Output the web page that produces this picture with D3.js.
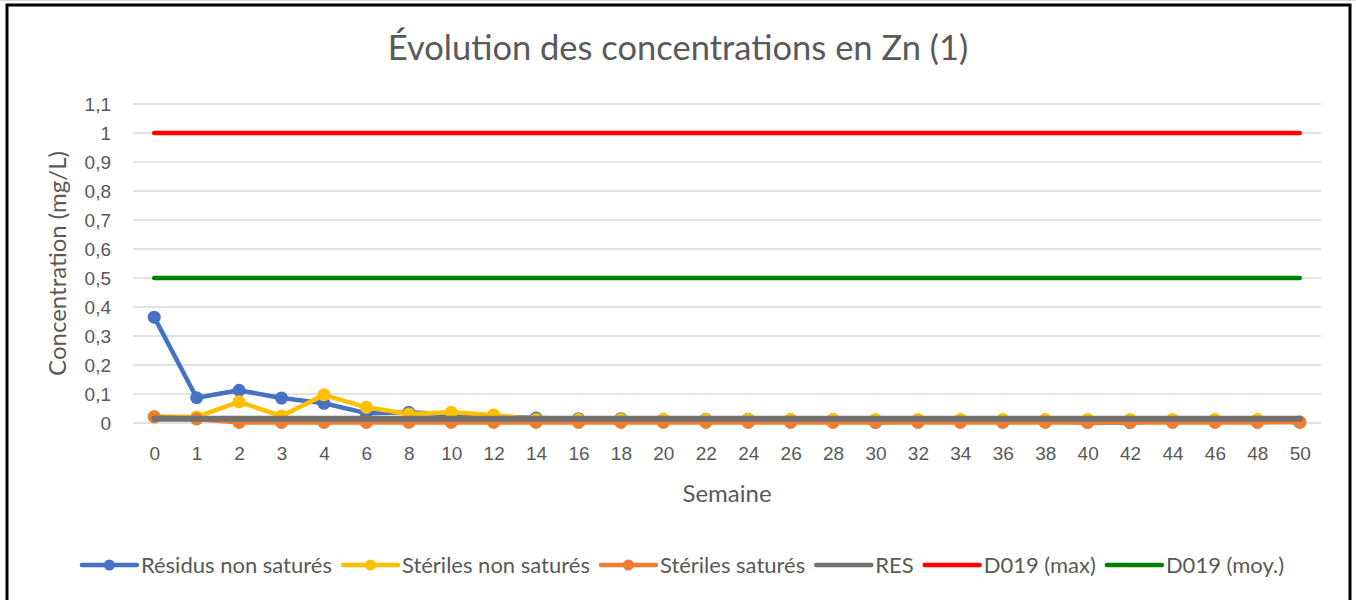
<!DOCTYPE html>
<html>
<head>
<meta charset="utf-8">
<script src="https://cdn.jsdelivr.net/npm/d3@7"></script>
<style>
  html, body { margin: 0; padding: 0; background: #fff; }
  svg { display: block; font-family: Lato, "Open Sans", sans-serif; }
</style>
</head>
<body>
<svg id="chart" width="1356" height="600"></svg>
<script>
// Semaines (axe des catégories)
const weeks = ["0","1","2","3","4","6","8","10","12","14","16","18","20","22","24","26","28","30","32","34","36","38","40","42","44","46","48","50"];

// Concentrations en Zn (mg/L)
const residusNonSatures = [0.365,0.087,0.113,0.086,0.068,0.034,0.037,0.03,0.022,0.017,0.015,0.015,0.011,0.013,0.013,0.011,0.011,0.002,0.009,0.008,0.008,0.008,0.002,0.002,0.009,0.008,0.009,0.003];
const sterilesNonSatures = [0.022,0.021,0.073,0.024,0.097,0.054,0.031,0.037,0.028,0.012,0.012,0.012,0.012,0.012,0.012,0.012,0.012,0.012,0.012,0.012,0.012,0.012,0.012,0.012,0.012,0.012,0.012,0.004];
const sterilesSatures = [0.021,0.014,0.002,0.002,0.002,0.002,0.002,0.002,0.002,0.002,0.002,0.002,0.002,0.002,0.002,0.002,0.002,0.002,0.002,0.002,0.002,0.002,0.002,0.002,0.002,0.002,0.002,0.003];
const resValues = weeks.map(() => 0.015);
const d019Max = weeks.map(() => 1);
const d019Moy = weeks.map(() => 0.5);

const yTicks = [0,0.1,0.2,0.3,0.4,0.5,0.6,0.7,0.8,0.9,1,1.1];

const series = [
  { name: "Résidus non saturés", values: residusNonSatures, color: "#4472C4", marker: true, width: 4.5 },
  { name: "Stériles non saturés", values: sterilesNonSatures, color: "#FFC000", marker: true, width: 4.5 },
  { name: "Stériles saturés", values: sterilesSatures, color: "#ED7D31", marker: true, width: 4.5 },
  { name: "RES", values: resValues, color: "#767171", marker: false, width: 6 },
  { name: "D019 (max)", values: d019Max, color: "#FF0000", marker: false, width: 4.5 },
  { name: "D019 (moy.)", values: d019Moy, color: "#008000", marker: false, width: 4.5 }
];

const svg = d3.select("#chart");
const textColor = "#595959";
const plot = { left: 133, right: 1321, top: 104, bottom: 423 };

// Cadre du graphique
svg.append("line").attr("x1", 0).attr("x2", 1356).attr("y1", 0.5).attr("y2", 0.5)
  .attr("stroke", "#d9d9d9").attr("stroke-width", 1);
svg.append("rect").attr("x", 7).attr("y", 5).attr("width", 1343).attr("height", 700)
  .attr("fill", "#fff").attr("stroke", "#000").attr("stroke-width", 3);

const x = d3.scalePoint().domain(weeks).range([plot.left, plot.right]).padding(0.5);
const y = d3.scaleLinear().domain([0, 1.1]).range([plot.bottom, plot.top]);

// Quadrillage horizontal
svg.append("g").selectAll("line").data(yTicks).join("line")
  .attr("x1", plot.left).attr("x2", plot.right)
  .attr("y1", d => y(d)).attr("y2", d => y(d))
  .attr("stroke", "#d9d9d9").attr("stroke-width", 1.5);

// Axe Y
const yAxis = svg.append("g").attr("transform", `translate(${plot.left},0)`)
  .call(d3.axisLeft(y).tickValues(yTicks).tickSize(0).tickPadding(22)
    .tickFormat(d => String(+d.toFixed(1)).replace(".", ",")));
yAxis.select(".domain").remove();
yAxis.selectAll("text").attr("fill", textColor).style("font-size", "19px");

// Axe X
const xAxis = svg.append("g").attr("transform", `translate(0,${plot.bottom})`)
  .call(d3.axisBottom(x).tickSize(0).tickPadding(24));
xAxis.select(".domain").remove();
xAxis.selectAll("text").attr("fill", textColor).style("font-size", "19px");

// Courbes
const line = d3.line().x((d, i) => x(weeks[i])).y(d => y(d));
series.forEach(s => {
  const g = svg.append("g");
  g.append("path").datum(s.values)
    .attr("d", line).attr("fill", "none")
    .attr("stroke", s.color).attr("stroke-width", s.width)
    .attr("stroke-linejoin", "round").attr("stroke-linecap", "round");
  if (s.marker) {
    g.selectAll("circle").data(s.values).join("circle")
      .attr("cx", (d, i) => x(weeks[i])).attr("cy", d => y(d))
      .attr("r", 6.5).attr("fill", s.color);
  }
});

// Titres
svg.append("text").attr("x", 678).attr("y", 60).attr("text-anchor", "middle")
  .attr("fill", textColor).style("font-size", "34.5px")
  .text("Évolution des concentrations en Zn (1)");
svg.append("text").attr("x", (plot.left + plot.right) / 2).attr("y", 502).attr("text-anchor", "middle")
  .attr("fill", textColor).style("font-size", "24px").text("Semaine");
svg.append("text").attr("transform", `translate(66,${(plot.top + plot.bottom) / 2}) rotate(-90)`)
  .attr("text-anchor", "middle").attr("fill", textColor).style("font-size", "24px")
  .text("Concentration (mg/L)");

// Légende
const legend = svg.append("g");
const legendY = 565;
let cursor = 0;
series.forEach(s => {
  const item = legend.append("g").attr("transform", `translate(${cursor},0)`);
  item.append("line").attr("x1", 0).attr("x2", 55).attr("y1", legendY).attr("y2", legendY)
    .attr("stroke", s.color).attr("stroke-width", 4.5).attr("stroke-linecap", "round");
  if (s.marker) item.append("circle").attr("cx", 27.5).attr("cy", legendY).attr("r", 5.5).attr("fill", s.color);
  const t = item.append("text").attr("x", 59).attr("y", legendY + 7.5)
    .attr("fill", textColor).style("font-size", "22px").text(s.name);
  cursor += 59 + t.node().getComputedTextLength() + 11;
});
const legendWidth = cursor - 11;
legend.attr("transform", `translate(${683 - legendWidth / 2},0)`);
</script>
</body>
</html>
